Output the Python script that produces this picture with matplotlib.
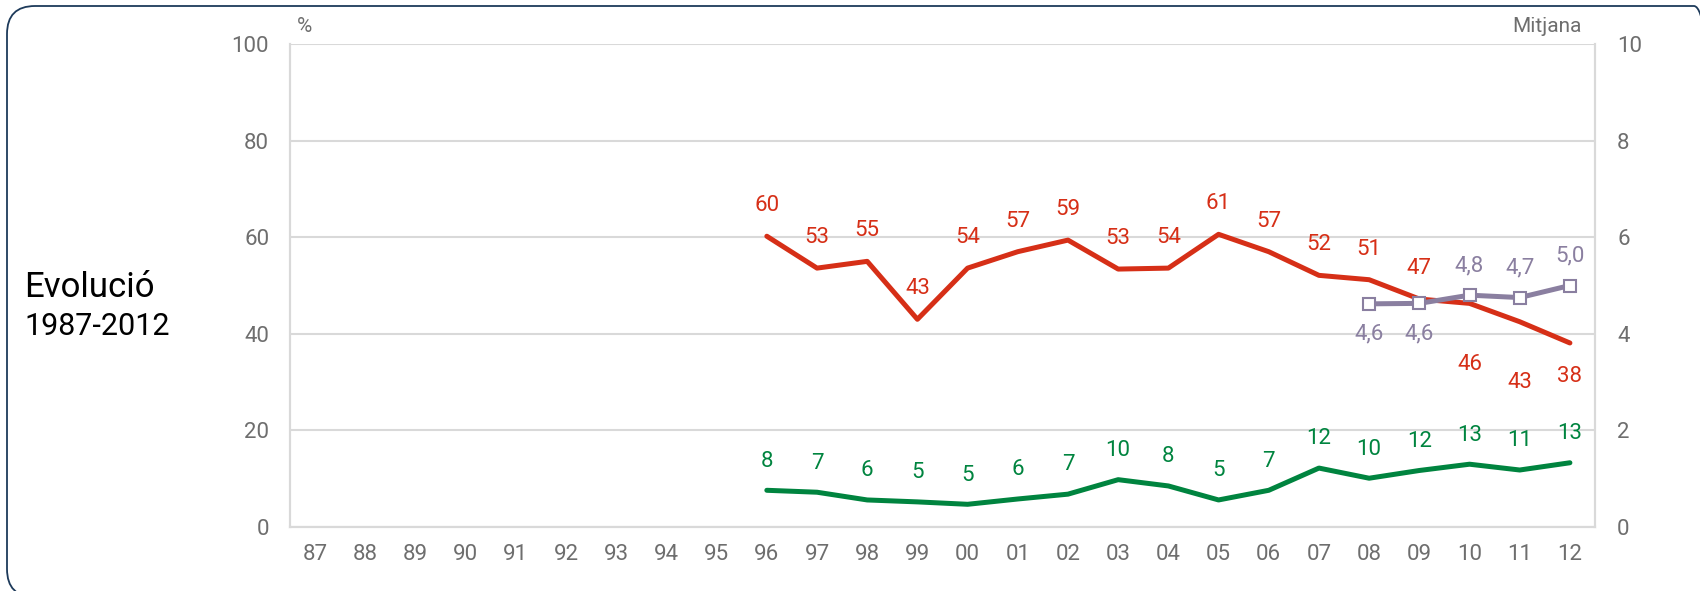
import matplotlib
matplotlib.use('Agg')
import matplotlib.pyplot as plt
from matplotlib.patches import FancyBboxPatch

plt.rcParams['font.family'] = ['Roboto', 'DejaVu Sans']

# categories (two-digit years)
years = ['87', '88', '89', '90', '91', '92', '93', '94', '95', '96', '97', '98', '99',
         '00', '01', '02', '03', '04', '05', '06', '07', '08', '09', '10', '11', '12']

# red series (%), from 96 onwards
red_years = ['96', '97', '98', '99', '00', '01', '02', '03', '04', '05', '06', '07', '08',
             '09', '10', '11', '12']
red_vals = [60.2, 53.6, 55.0, 43.0, 53.6, 57.0, 59.4, 53.4, 53.6, 60.6, 57.0, 52.1, 51.2,
            47.2, 46.3, 42.5, 38.1]
red_labels = ['60', '53', '55', '43', '54', '57', '59', '53', '54', '61', '57', '52', '51',
              '47', '46', '43', '38']

# green series (%)
green_vals = [7.6, 7.2, 5.6, 5.2, 4.7, 5.8, 6.8, 9.8, 8.5, 5.6, 7.6, 12.2, 10.1, 11.7, 13.0,
              11.8, 13.3]
green_labels = ['8', '7', '6', '5', '5', '6', '7', '10', '8', '5', '7', '12', '10', '12', '13',
                '11', '13']

# purple series (mitjana, right axis 0-10)
purple_years = ['08', '09', '10', '11', '12']
purple_vals = [4.62, 4.63, 4.8, 4.75, 5.0]
purple_labels = ['4,6', '4,6', '4,8', '4,7', '5,0']

RED = '#d62f17'
GREEN = '#00843f'
PURPLE = '#8a7fa0'
GREY = '#6e6e6e'
GRID = '#d9d9d9'

W, H = 1700, 591
fig = plt.figure(figsize=(W / 100, H / 100), dpi=100)

# rounded border (inches), runs off the right and bottom edges
border = FancyBboxPatch((0.07, -0.06), 17.15, 5.91,
                        boxstyle='round,pad=0,rounding_size=0.28',
                        transform=fig.dpi_scale_trans, fill=False,
                        edgecolor='#1d3a5a', linewidth=1.3, clip_on=False)
fig.patches.append(border)

left, right, top, bottom = 290, 1595, 44, 527
ax = fig.add_axes([left / W, (H - bottom) / H, (right - left) / W, (bottom - top) / H])
ax2 = ax.twinx()

xpos = {y: i for i, y in enumerate(years)}
rx = [xpos[y] for y in red_years]
px = [xpos[y] for y in purple_years]

ax.set_xlim(-0.5, len(years) - 0.5)
ax.set_ylim(0, 100)
ax2.set_ylim(0, 10)

ax.set_yticks(range(0, 101, 20))
ax2.set_yticks(range(0, 11, 2))
ax.set_xticks(range(len(years)))
ax.set_xticklabels(years)
ax.yaxis.grid(True, color=GRID, linewidth=1.5)
ax.set_axisbelow(True)

for a in (ax, ax2):
    a.spines['top'].set_visible(False)
    for s in ('left', 'right', 'bottom'):
        a.spines[s].set_color(GRID)
        a.spines[s].set_linewidth(1.5)
ax.tick_params(axis='both', length=0, colors=GREY, labelsize=16)
ax.tick_params(axis='y', pad=15)
ax.tick_params(axis='x', pad=12)
ax2.tick_params(axis='y', length=0, colors=GREY, labelsize=16, pad=16)

ax.plot(rx, red_vals, color=RED, linewidth=3.6, solid_capstyle='round', zorder=3)
ax.plot(rx, green_vals, color=GREEN, linewidth=3.6, solid_capstyle='round', zorder=3)
ax2.plot(px, purple_vals, color=PURPLE, linewidth=3.6, marker='s', markersize=8,
         markerfacecolor='white', markeredgecolor=PURPLE, markeredgewidth=1.5, zorder=4)

# label offsets in points (positive = above)
red_off = [22] * 14 + [-44, -44, -24]
for x, v, t, o in zip(rx, red_vals, red_labels, red_off):
    ax.annotate(t, (x, v), xytext=(0, o), textcoords='offset points', ha='center',
                va='center', color=RED, fontsize=16)
for x, v, t in zip(rx, green_vals, green_labels):
    ax.annotate(t, (x, v), xytext=(0, 21), textcoords='offset points', ha='center',
                va='center', color=GREEN, fontsize=16)
purple_off = [-22, -22, 21, 21, 21]
for x, v, t, o in zip(px, purple_vals, purple_labels, purple_off):
    ax2.annotate(t, (x, v), xytext=(0, o), textcoords='offset points', ha='center',
                 va='center', color=PURPLE, fontsize=16)

fig.text(297 / W, 1 - 26 / H, '%', color=GREY, fontsize=15, va='center', ha='left')
fig.text(1582 / W, 1 - 27 / H, 'Mitjana', color=GREY, fontsize=15, va='center', ha='right')

fig.text(24 / W, 1 - 297 / H, 'Evolució', color='black', fontsize=25, va='baseline', ha='left')
fig.text(24 / W, 1 - 335 / H, '1987-2012', color='black', fontsize=22, va='baseline', ha='left')

fig.savefig('out.png', dpi=100)
